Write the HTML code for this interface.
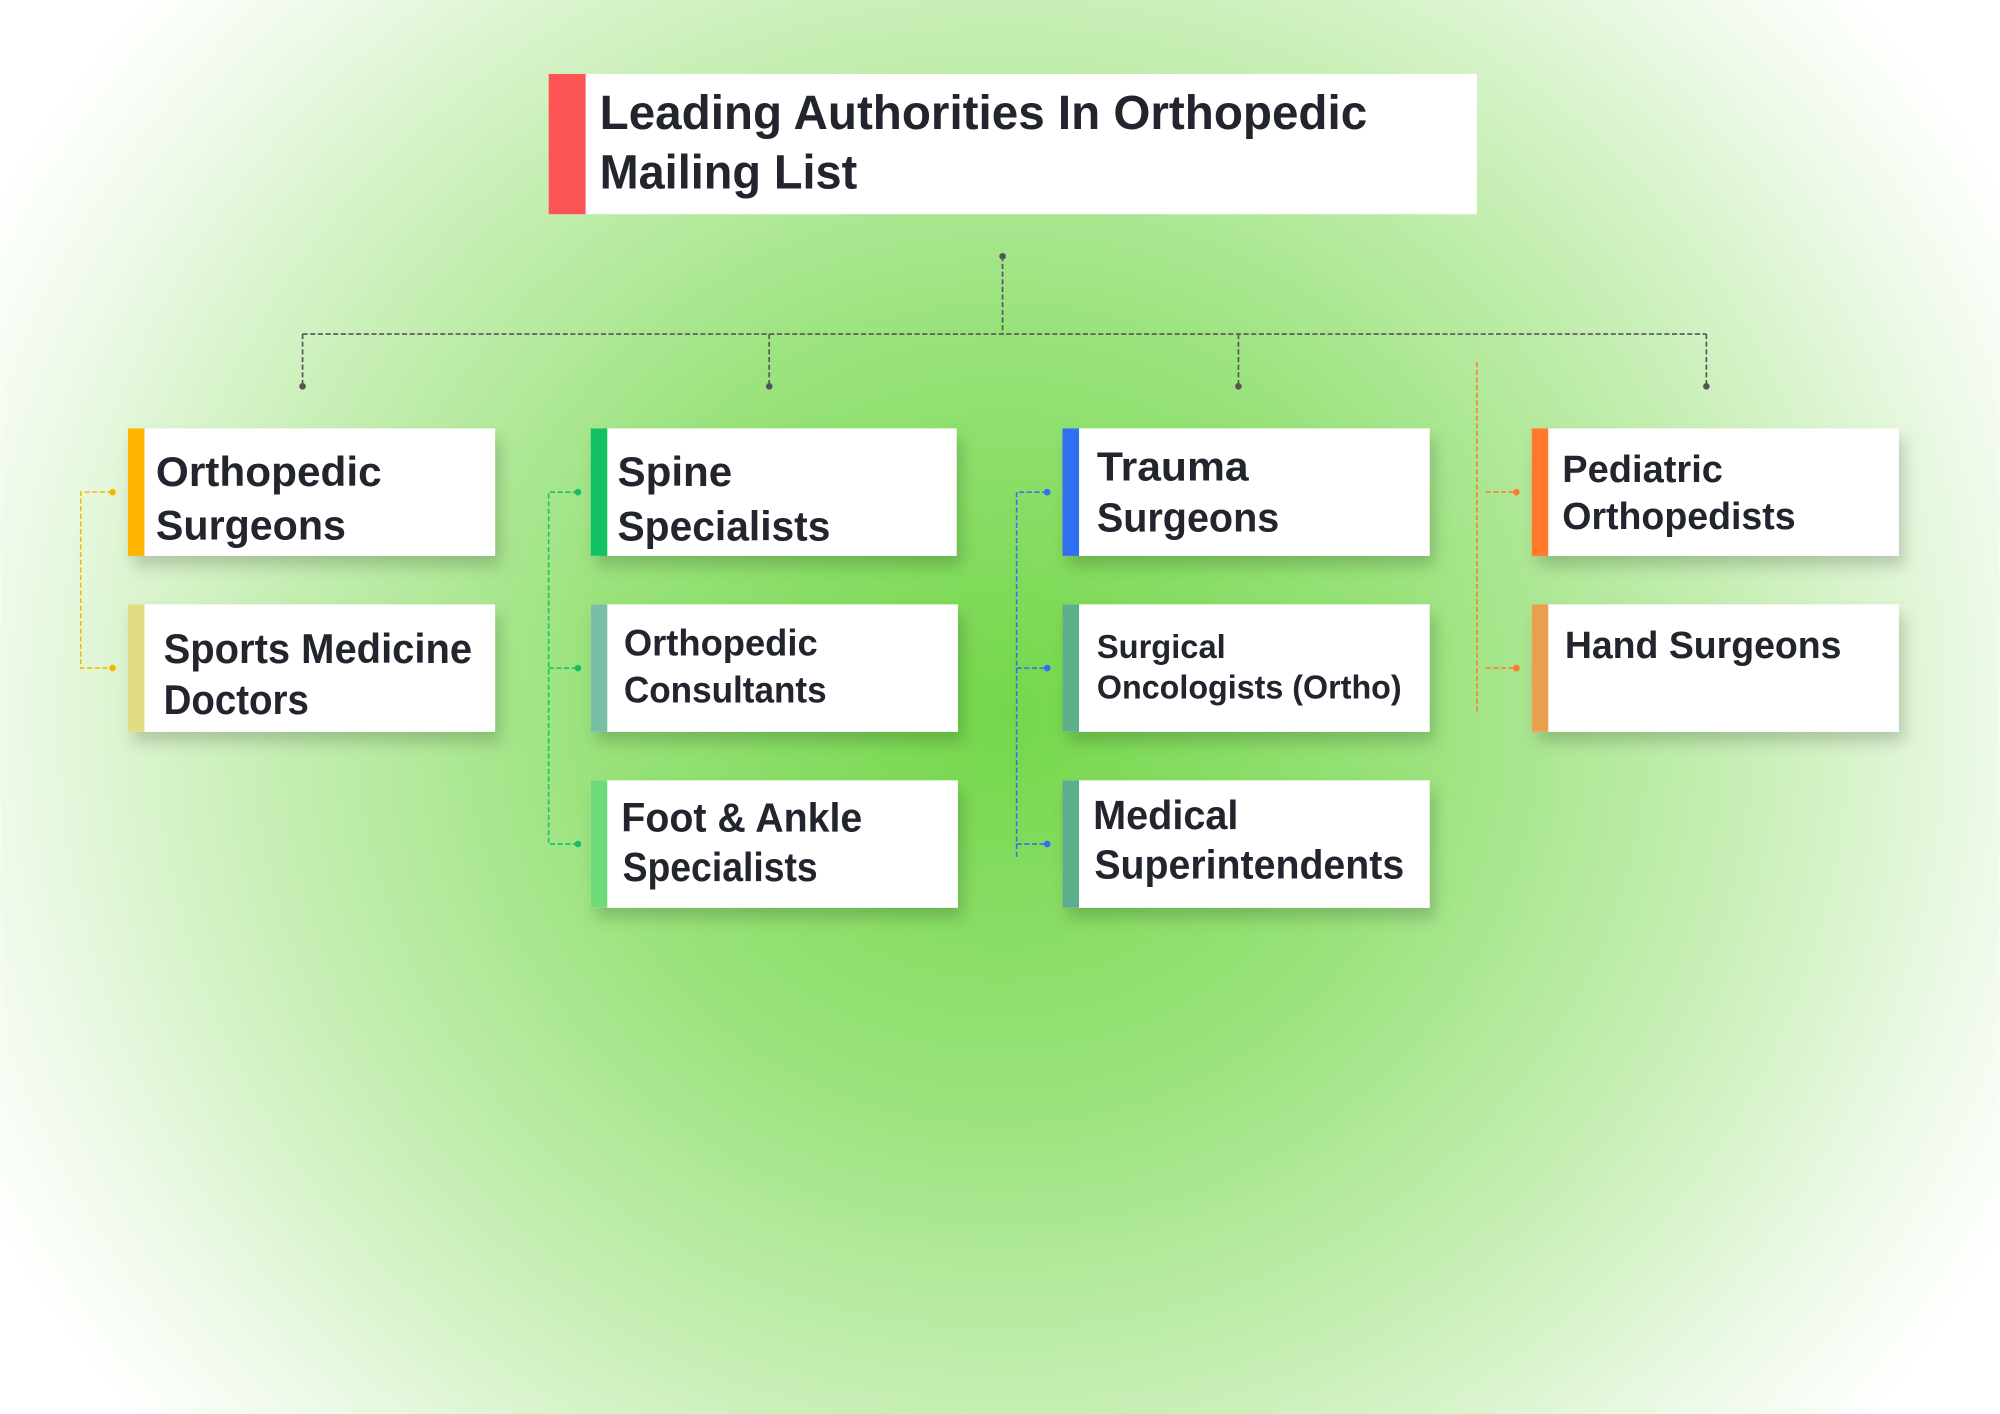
<!DOCTYPE html>
<html><head><meta charset="utf-8"><style>
html,body{margin:0;padding:0;width:2000px;height:1414px;overflow:hidden;background:#fff}
svg{display:block}
text{font-family:"Liberation Sans",sans-serif;font-weight:700;fill:#22252d}
</style></head><body>
<svg width="2000" height="1414" viewBox="0 0 1568 1109" xmlns="http://www.w3.org/2000/svg">
<defs>
<radialGradient id="bg" cx="786" cy="560" r="900" gradientUnits="userSpaceOnUse" gradientTransform="translate(786 560) scale(1 0.95) translate(-786 -560)">
<stop offset="0" stop-color="#74d74a"/>
<stop offset="0.35" stop-color="#98e27a"/>
<stop offset="0.65" stop-color="#c8efb6"/>
<stop offset="0.9" stop-color="#f2fbee"/>
<stop offset="1" stop-color="#ffffff"/>
</radialGradient>
<filter id="sh" x="-10%" y="-10%" width="130%" height="150%">
<feDropShadow dx="4" dy="8" stdDeviation="6" flood-color="#000" flood-opacity="0.18"/>
</filter>
</defs>
<rect width="1568" height="1109" fill="url(#bg)"/>

<!-- title -->
<rect x="430" y="58" width="728" height="110" fill="#fff"/>
<rect x="430" y="58" width="29" height="110" fill="#fd5555"/>
<text x="470" y="101" font-size="38" textLength="602" lengthAdjust="spacingAndGlyphs">Leading Authorities In Orthopedic</text>
<text x="470" y="148" font-size="38" textLength="202" lengthAdjust="spacingAndGlyphs">Mailing List</text>

<!-- main connectors -->
<g stroke="#555" stroke-width="1.3" stroke-dasharray="4 2" fill="none">
<path d="M786 201V262M237 262H1338M237 262V303M603 262V303M971 262V303M1338 262V303"/>
</g>
<g fill="#555"><circle cx="786" cy="201" r="2.6"/><circle cx="237" cy="303" r="2.6"/><circle cx="603" cy="303" r="2.6"/><circle cx="971" cy="303" r="2.6"/><circle cx="1338" cy="303" r="2.6"/></g>

<!-- column brackets -->
<g fill="none" stroke-width="1.2" stroke-dasharray="4 2">
<path d="M88 386H63V524H88" stroke="#f5b800"/>
<path d="M453 386H430V662H453M430 524H453" stroke="#14c062"/>
<path d="M821 386H797V672M797 524H821M797 662H821" stroke="#2f6ff0"/>
<path d="M1158 284V560M1165 386H1189M1165 524H1189" stroke="#ff7a2a"/>
</g>
<g>
<circle cx="88" cy="386" r="2.6" fill="#f5b800"/><circle cx="88" cy="524" r="2.6" fill="#f5b800"/>
<circle cx="453" cy="386" r="2.6" fill="#14c062"/><circle cx="453" cy="524" r="2.6" fill="#14c062"/><circle cx="453" cy="662" r="2.6" fill="#14c062"/>
<circle cx="821" cy="386" r="2.6" fill="#2f6ff0"/><circle cx="821" cy="524" r="2.6" fill="#2f6ff0"/><circle cx="821" cy="662" r="2.6" fill="#2f6ff0"/>
<circle cx="1189" cy="386" r="2.6" fill="#ff7a2a"/><circle cx="1189" cy="524" r="2.6" fill="#ff7a2a"/>
</g>

<!-- boxes -->
<g filter="url(#sh)" fill="#fff">
<rect x="100" y="336" width="288" height="100"/>
<rect x="100" y="474" width="288" height="100"/>
<rect x="463" y="336" width="287" height="100"/>
<rect x="463" y="474" width="288" height="100"/>
<rect x="463" y="612" width="288" height="100"/>
<rect x="833" y="336" width="288" height="100"/>
<rect x="833" y="474" width="288" height="100"/>
<rect x="833" y="612" width="288" height="100"/>
<rect x="1201" y="336" width="288" height="100"/>
<rect x="1201" y="474" width="288" height="100"/>
</g>
<rect x="100" y="336" width="13" height="100" fill="#ffb400"/>
<rect x="100" y="474" width="13" height="100" fill="#e2dd82"/>
<rect x="463" y="336" width="13" height="100" fill="#12c262"/>
<rect x="463" y="474" width="13" height="100" fill="#79bfa6"/>
<rect x="463" y="612" width="13" height="100" fill="#6edb78"/>
<rect x="833" y="336" width="13" height="100" fill="#2f6ff0"/>
<rect x="833" y="474" width="13" height="100" fill="#5db08a"/>
<rect x="833" y="612" width="13" height="100" fill="#5dae8c"/>
<rect x="1201" y="336" width="13" height="100" fill="#ff7a2a"/>
<rect x="1201" y="474" width="13" height="100" fill="#e8a04e"/>

<!-- labels -->
<text x="122" y="381" font-size="33" textLength="177" lengthAdjust="spacingAndGlyphs">Orthopedic</text>
<text x="122" y="423" font-size="33" textLength="149" lengthAdjust="spacingAndGlyphs">Surgeons</text>
<text x="128" y="520" font-size="33" textLength="242" lengthAdjust="spacingAndGlyphs">Sports Medicine</text>
<text x="128" y="560" font-size="33" textLength="114" lengthAdjust="spacingAndGlyphs">Doctors</text>

<text x="484" y="381" font-size="33" textLength="90" lengthAdjust="spacingAndGlyphs">Spine</text>
<text x="484" y="424" font-size="33" textLength="167" lengthAdjust="spacingAndGlyphs">Specialists</text>
<text x="489" y="514" font-size="29" textLength="152" lengthAdjust="spacingAndGlyphs">Orthopedic</text>
<text x="489" y="551" font-size="29" textLength="159" lengthAdjust="spacingAndGlyphs">Consultants</text>
<text x="487" y="652" font-size="32" textLength="189" lengthAdjust="spacingAndGlyphs">Foot &amp; Ankle</text>
<text x="488" y="691" font-size="32" textLength="153" lengthAdjust="spacingAndGlyphs">Specialists</text>

<text x="860" y="377" font-size="32" textLength="119" lengthAdjust="spacingAndGlyphs">Trauma</text>
<text x="860" y="417" font-size="32" textLength="143" lengthAdjust="spacingAndGlyphs">Surgeons</text>
<text x="860" y="516" font-size="26" textLength="101" lengthAdjust="spacingAndGlyphs">Surgical</text>
<text x="860" y="548" font-size="26" textLength="239" lengthAdjust="spacingAndGlyphs">Oncologists (Ortho)</text>
<text x="857" y="650" font-size="32" textLength="114" lengthAdjust="spacingAndGlyphs">Medical</text>
<text x="858" y="689" font-size="32" textLength="243" lengthAdjust="spacingAndGlyphs">Superintendents</text>

<text x="1225" y="378" font-size="30" textLength="126" lengthAdjust="spacingAndGlyphs">Pediatric</text>
<text x="1225" y="415" font-size="30" textLength="183" lengthAdjust="spacingAndGlyphs">Orthopedists</text>
<text x="1227" y="516" font-size="30" textLength="217" lengthAdjust="spacingAndGlyphs">Hand Surgeons</text>
</svg>
</body></html>
